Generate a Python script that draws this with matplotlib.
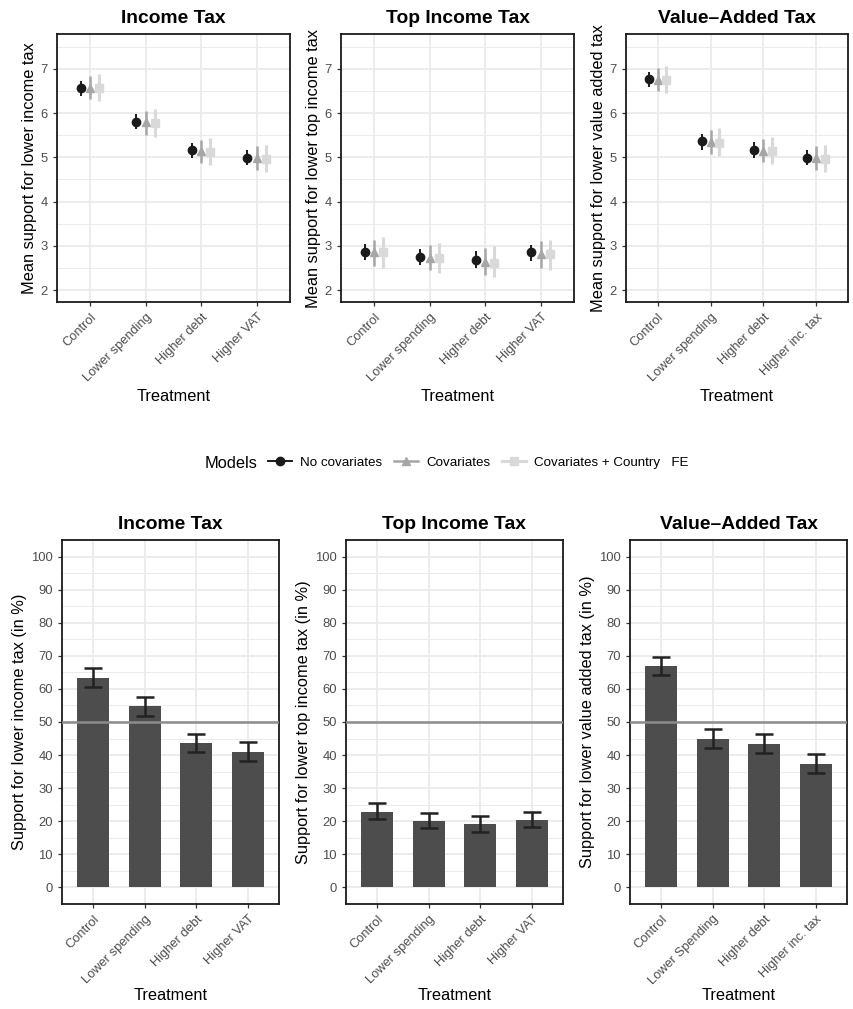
import matplotlib
matplotlib.use("Agg")
import matplotlib.pyplot as plt
from matplotlib.lines import Line2D
from matplotlib.ticker import MultipleLocator
import numpy as np

plt.rcParams['font.family'] = ['Liberation Sans', 'DejaVu Sans']

# labels
titles = ["Income Tax", "Top Income Tax", "Value\u2013Added Tax"]
cats_top = [["Control", "Lower spending", "Higher debt", "Higher VAT"],
            ["Control", "Lower spending", "Higher debt", "Higher VAT"],
            ["Control", "Lower spending", "Higher debt", "Higher inc. tax"]]
cats_bot = [["Control", "Lower spending", "Higher debt", "Higher VAT"],
            ["Control", "Lower spending", "Higher debt", "Higher VAT"],
            ["Control", "Lower Spending", "Higher debt", "Higher inc. tax"]]
ylab_top = ["Mean support for lower income tax",
            "Mean support for lower top income tax",
            "Mean support for lower value added tax"]
ylab_bot = ["Support for lower income tax (in %)",
            "Support for lower top income tax (in %)",
            "Support for lower value added tax (in %)"]
models = ["No covariates", "Covariates", "Covariates + Country   FE"]

# top row: mean estimates with CI, [panel][model] -> per treatment
est = [
    [[6.56, 5.81, 5.16, 4.99], [6.57, 5.79, 5.14, 4.98], [6.57, 5.78, 5.13, 4.97]],
    [[2.87, 2.75, 2.69, 2.85], [2.85, 2.73, 2.63, 2.82], [2.85, 2.73, 2.62, 2.81]],
    [[6.77, 5.36, 5.17, 4.99], [6.76, 5.34, 5.15, 4.98], [6.75, 5.33, 5.14, 4.97]],
]
lo = [
    [[6.39, 5.64, 4.98, 4.82], [6.32, 5.51, 4.87, 4.71], [6.28, 5.47, 4.82, 4.66]],
    [[2.68, 2.56, 2.50, 2.65], [2.54, 2.45, 2.34, 2.50], [2.50, 2.39, 2.30, 2.46]],
    [[6.59, 5.17, 4.98, 4.82], [6.51, 5.08, 4.89, 4.71], [6.45, 5.04, 4.84, 4.66]],
]
hi = [
    [[6.73, 5.98, 5.32, 5.16], [6.84, 6.06, 5.40, 5.25], [6.88, 6.09, 5.44, 5.28]],
    [[3.05, 2.93, 2.88, 3.03], [3.14, 3.03, 2.95, 3.10], [3.20, 3.07, 2.99, 3.14]],
    [[6.94, 5.53, 5.34, 5.17], [7.03, 5.62, 5.41, 5.25], [7.07, 5.66, 5.46, 5.28]],
]

# bottom row: share in %, with CI
share = [[63.4, 54.7, 43.5, 40.8], [22.7, 20.1, 19.2, 20.4], [67.0, 44.9, 43.3, 37.3]]
share_lo = [[60.6, 51.9, 40.8, 38.2], [20.6, 17.9, 16.8, 18.1], [64.3, 42.1, 40.6, 34.7]]
share_hi = [[66.3, 57.6, 46.5, 43.8], [25.4, 22.6, 21.4, 22.8], [69.6, 47.8, 46.4, 40.3]]

W, H = 854, 1009
fig = plt.figure(figsize=(W / 100, H / 100), dpi=100)

def box(l, r, t, b):
    return [l / W, 1 - b / H, (r - l) / W, (b - t) / H]

top_boxes = [box(57, 290, 34, 302), box(341, 574, 34, 302), box(626, 848, 34, 302)]
bot_boxes = [box(62, 279, 540, 904), box(346, 563, 540, 904), box(630, 847, 540, 904)]

def style(ax, labels, ylabel, title, xlab_y):
    ax.set_xlim(0.4, 4.6)
    ax.set_xticks(np.arange(1, 5))
    ax.set_xticklabels(labels, rotation=45, ha="right", va="top",
                       rotation_mode="anchor", color="#4D4D4D", fontsize=9.3)
    ax.tick_params(axis="both", length=3, width=0.9, color="#333333",
                   labelcolor="#4D4D4D")
    ax.tick_params(axis="y", labelsize=9.4)
    ax.tick_params(axis="both", which="minor", length=0)
    ax.grid(True, which="major", color="#EBEBEB", lw=1.3, zorder=0)
    ax.grid(True, which="minor", axis="y", color="#EBEBEB", lw=0.7, zorder=0)
    ax.set_axisbelow(True)
    for s in ax.spines.values():
        s.set_color("#1a1a1a")
        s.set_linewidth(1.3)
    ax.set_xlabel("Treatment", fontsize=11.8, va="center")
    ax.xaxis.set_label_coords(0.5, xlab_y)
    ax.set_ylabel(ylabel, fontsize=11.8, labelpad=3)
    ax.set_title(title, fontsize=13.9, fontweight="bold", pad=8)

colors = ["#1a1a1a", "#A6A6A6", "#D9D9D9"]
markers = ["o", "^", "s"]
offsets = [-0.17, 0.0, 0.16]
elw = [1.4, 1.8, 2.2]

for p in range(3):
    ax = fig.add_axes(top_boxes[p])
    x = np.arange(1, 5)
    for m in range(3):
        y = np.array(est[p][m])
        yerr = [y - np.array(lo[p][m]), np.array(hi[p][m]) - y]
        ax.errorbar(x + offsets[m], y, yerr=yerr, fmt=markers[m], color=colors[m],
                    ms=6, elinewidth=elw[m], capsize=0, zorder=3)
    ax.set_ylim(1.73, 7.79)
    ax.set_yticks(np.arange(2, 8))
    ax.yaxis.set_minor_locator(MultipleLocator(0.5))
    style(ax, cats_top[p], ylab_top[p], titles[p], -(396 - 302) / 268)

for p in range(3):
    ax = fig.add_axes(bot_boxes[p])
    x = np.arange(1, 5)
    v = np.array(share[p])
    ax.bar(x, v, width=0.62, color="#4D4D4D", zorder=2)
    ax.axhline(50, color="#8C8C8C", lw=1.8, zorder=3)
    ax.errorbar(x, v, yerr=[v - np.array(share_lo[p]), np.array(share_hi[p]) - v],
                fmt="none", ecolor="#222222", elinewidth=1.8, capsize=6.5,
                capthick=1.8, zorder=4)
    ax.set_ylim(-5.1, 105.1)
    ax.set_yticks(np.arange(0, 101, 10))
    ax.yaxis.set_minor_locator(MultipleLocator(5))
    style(ax, cats_bot[p], ylab_bot[p], titles[p], -(996 - 904) / 364)

# legend
handles = [Line2D([0], [0], color=colors[m], marker=markers[m], lw=elw[m], ms=6)
           for m in range(3)]
fig.text(205 / W, 1 - 463 / H, "Models", fontsize=11.8, ha="left", va="center")
fig.legend(handles, models, loc="center left", bbox_to_anchor=(268 / W, 1 - 463 / H),
           ncol=3, frameon=False, fontsize=9.6, handlelength=1.8, handletextpad=0.6,
           columnspacing=0.9, borderaxespad=0, borderpad=0)

fig.savefig("out.png", dpi=100)
